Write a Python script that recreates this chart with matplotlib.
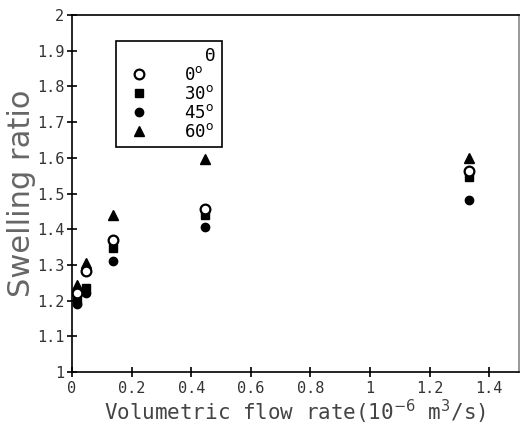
import matplotlib
matplotlib.use("Agg")
import matplotlib.pyplot as plt
from matplotlib.lines import Line2D

# Data (volumetric flow rate, 1e-6 m^3/s ; swelling ratio)
flow = [0.017, 0.047, 0.136, 0.445, 1.333]
ratio_0 = [1.22, 1.284, 1.37, 1.458, 1.562]
ratio_30 = [1.20, 1.235, 1.347, 1.44, 1.547]
ratio_45 = [1.19, 1.222, 1.31, 1.407, 1.482]
ratio_60 = [1.244, 1.306, 1.44, 1.598, 1.60]
angle_labels = ["0$^{\\mathsf{o}}$", "30$^{\\mathsf{o}}$", "45$^{\\mathsf{o}}$", "60$^{\\mathsf{o}}$"]
x_ticks = [0, 0.2, 0.4, 0.6, 0.8, 1, 1.2, 1.4]
x_ticklabels = ["0", "0.2", "0.4", "0.6", "0.8", "1", "1.2", "1.4"]
y_ticks = [1, 1.1, 1.2, 1.3, 1.4, 1.5, 1.6, 1.7, 1.8, 1.9, 2]
y_ticklabels = ["1", "1.1", "1.2", "1.3", "1.4", "1.5", "1.6", "1.7", "1.8", "1.9", "2"]

fig = plt.figure(figsize=(5.2, 4.28), dpi=100)
ax = fig.add_axes([0.1385, 0.1308, 0.8595, 0.8341])

mono = "DejaVu Sans Mono"
open_style = dict(marker="o", markersize=7, markerfacecolor="white",
                  markeredgecolor="black", markeredgewidth=1.6)
ax.plot(flow, ratio_0, linestyle="none", zorder=4, **open_style)
ax.plot(flow, ratio_30, linestyle="none", marker="s", markersize=6, color="black", zorder=3)
ax.plot(flow, ratio_45, linestyle="none", marker="o", markersize=6, color="black", zorder=3)
ax.plot(flow, ratio_60, linestyle="none", marker="^", markersize=7, color="black", zorder=3)

ax.set_xlim(0, 1.5)
ax.set_ylim(1, 2)
ax.set_xticks(x_ticks)
ax.set_xticklabels(x_ticklabels, family=mono, fontsize=11, color="#333333")
ax.set_yticks(y_ticks)
ax.set_yticklabels(y_ticklabels, family=mono, fontsize=11, color="#333333")
ax.tick_params(direction="inout", length=7, width=1.2, pad=3)
ax.tick_params(axis="y", pad=2)
for s in ax.spines.values():
    s.set_linewidth(1.2)
ax.spines["right"].set_color("#888888")

ax.set_xlabel("Volumetric flow rate(10$^{-6}$ m$^3$/s)", family=mono, fontsize=15,
              color="#444444", labelpad=1)
ax.set_ylabel("Swelling ratio", family="DejaVu Sans", fontsize=22, color="#666666", labelpad=1)

handles = [
    Line2D([], [], linestyle="none", marker=None),
    Line2D([], [], linestyle="none", **open_style),
    Line2D([], [], linestyle="none", marker="s", markersize=6, color="black"),
    Line2D([], [], linestyle="none", marker="o", markersize=6, color="black"),
    Line2D([], [], linestyle="none", marker="^", markersize=7, color="black"),
]
labels = ["  \u0398"] + angle_labels
leg = ax.legend(handles, labels, loc="upper left", bbox_to_anchor=(0.098, 0.927),
                frameon=True, fancybox=False, edgecolor="black", framealpha=1,
                prop={"family": mono, "size": 12.5}, handletextpad=1.6, labelspacing=0.05,
                borderpad=0.35, handlelength=2.0, borderaxespad=0)
leg.get_frame().set_linewidth(1.2)
for t in leg.get_texts():
    t.set_ha("right")
leg._legend_box.align = "right"

fig.savefig("out.png", dpi=100)
